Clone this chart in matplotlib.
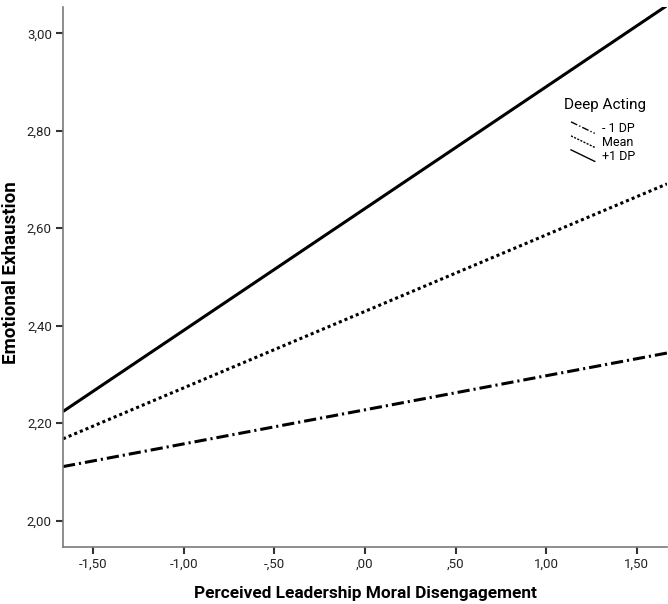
import matplotlib
matplotlib.use("Agg")
import matplotlib.pyplot as plt
from matplotlib.lines import Line2D
from matplotlib.legend_handler import HandlerLine2D

# x range of the moderator plot and line end values
x_ends = [-1.667, 1.667]
y_low = [2.111, 2.344]    # -1 DP
y_mean = [2.168, 2.691]   # Mean
y_high = [2.224, 3.057]   # +1 DP

legend_title = 'Deep Acting'
series_labels = ['- 1 DP', 'Mean', '+1 DP']

x_ticks = [-1.5, -1.0, -0.5, 0.0, 0.5, 1.0, 1.5]
x_ticklabels = ['-1,50', '-1,00', '-,50', ',00', ',50', '1,00', '1,50']
y_ticks = [2.0, 2.2, 2.4, 2.6, 2.8, 3.0]
y_ticklabels = ['2,00', '2,20', '2,40', '2,60', '2,80', '3,00']


class SlantHandler(HandlerLine2D):
    """Legend sample drawn as a short descending diagonal line."""
    def create_artists(self, legend, orig_handle, xdescent, ydescent,
                       width, height, fontsize, trans):
        line = Line2D([-xdescent, width - xdescent],
                      [height - ydescent + 1, -ydescent - 1])
        self.update_prop(line, orig_handle, legend)
        line.set_transform(trans)
        return [line]


plt.rcParams['font.family'] = ['Roboto', 'DejaVu Sans']

fig = plt.figure(figsize=(6.68, 6.04), dpi=100)
ax = fig.add_axes([63 / 668, 57 / 604, 604 / 668, 540 / 604])

styles = [(0, (4, 1.3, 0.7, 1.3)), (0, (1, 1)), '-']
for yv, ls in zip([y_low, y_mean, y_high], styles):
    ax.plot(x_ends, yv, color='black', lw=2.2, linestyle=ls,
            solid_capstyle='butt', dash_capstyle='butt')

ax.set_xlim(-1.667, 1.667)
ax.set_ylim(1.946, 3.054)
ax.set_xticks(x_ticks)
ax.set_xticklabels(x_ticklabels)
ax.set_yticks(y_ticks)
ax.set_yticklabels(y_ticklabels)

for side in ['top', 'right']:
    ax.spines[side].set_visible(False)
for side in ['left', 'bottom']:
    ax.spines[side].set_color('#7a7a7a')
    ax.spines[side].set_linewidth(1.2)
ax.tick_params(length=5, width=1.5, color='#333333', labelsize=9.5,
               labelcolor='#222222', pad=3)

ax.set_xlabel('Perceived Leadership Moral Disengagement', fontsize=12.4,
              fontweight='bold')
ax.set_ylabel('Emotional Exhaustion', fontsize=13.5, fontweight='bold')
ax.xaxis.set_label_coords(0.5, -0.073)
ax.yaxis.set_label_coords(-0.072, 0.509)

# legend: title as separate text so the gap above the entries matches
fig.text(605 / 668, 1 - 105 / 604, legend_title, fontsize=11,
         ha='center', va='center')
handles = [Line2D([], [], color='black', lw=1, linestyle=s) for s in
           [(0, (5, 1.5, 1, 1.5)), (0, (1.5, 1)), '-']]
leg = fig.legend(handles, series_labels,
                 loc='upper left', bbox_to_anchor=(571 / 668, 1 - 122 / 604),
                 frameon=False, fontsize=9,
                 handlelength=1.9, handletextpad=0.6, labelspacing=0.08,
                 borderpad=0, borderaxespad=0,
                 handler_map={Line2D: SlantHandler()})

fig.savefig('out.png', dpi=100)
